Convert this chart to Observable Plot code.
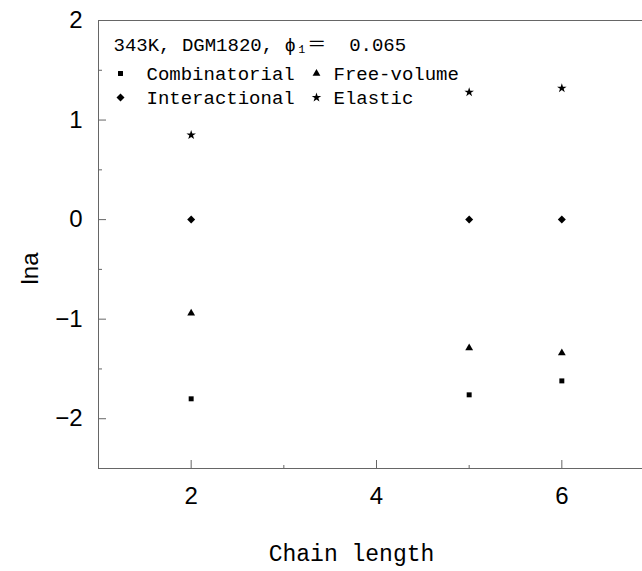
<!DOCTYPE html>
<html>
<head>
<meta charset="utf-8">
<script src="https://cdn.jsdelivr.net/npm/d3@7"></script>
<script src="https://cdn.jsdelivr.net/npm/@observablehq/plot@0.6"></script>
<style>
  html, body { margin: 0; padding: 0; background: #fff; }
</style>
</head>
<body>
<div id="chart"></div>
<script>
const chainLength = [2, 5, 6];
const combinatorial = [-1.80, -1.76, -1.62];
const freeVolume = [-0.94, -1.29, -1.34];
const interactional = [0, 0, 0];
const elastic = [0.85, 1.28, 1.32];

const seriesNames = ["Combinatorial", "Free-volume", "Interactional", "Elastic"];
const seriesSymbols = ["square", "triangle", "diamond2", "star"];
const seriesValues = [combinatorial, freeVolume, interactional, elastic];

const xMajorTicks = [2, 4, 6];
const xMinorTicks = [3, 5];
const yMajorTicks = [-2, -1, 0, 1, 2];
const yMinorTicks = [-1.5, -0.5, 0.5, 1.5];

const headerText = "343K, DGM1820, \u03d5\u2081\uff1d  0.065";
const xTitle = "Chain length";
const yTitle = "lna";

const symbolRadius = {"Combinatorial": 2.8, "Free-volume": 2.9, "Interactional": 3.6, "Elastic": 3.0};

const rows = seriesNames.flatMap((s, i) =>
  chainLength.map((c, j) => ({series: s, x: c, y: seriesValues[i][j]}))
);

const legendEntries = seriesNames.map((s, i) => ({series: s, col: i % 2, row: Math.floor(i / 2)}));

const mono = "'Liberation Mono', 'DejaVu Sans Mono', 'Noto Sans CJK SC', monospace";
const sans = "'Liberation Sans', Arial, sans-serif";
const axisColor = "#666";

const legendMarks = legendEntries.flatMap(e => [
  Plot.dot([e], {
    frameAnchor: "top-left",
    dx: 22 + e.col * 196, dy: 53 + e.row * 24,
    symbol: "series", fill: "black", r: symbolRadius[e.series]
  }),
  Plot.text([e], {
    frameAnchor: "top-left",
    text: "series",
    dx: 48 + e.col * 187, dy: 53 + e.row * 24,
    textAnchor: "start", lineAnchor: "middle", fontFamily: mono, fontSize: 19, fill: "black"
  })
]);

const dataMarks = seriesNames.map(s =>
  Plot.dot(rows.filter(d => d.series === s), {x: "x", y: "y", symbol: "series", fill: "black", r: symbolRadius[s]})
);

const chart = Plot.plot({
  width: 642,
  height: 571,
  marginLeft: 98,
  marginRight: -12,
  marginTop: 20,
  marginBottom: 103,
  style: {background: "#fff", color: "black"},
  x: {domain: [1, 7], axis: null},
  y: {domain: [-2.5, 2], axis: null},
  symbol: {domain: seriesNames, range: seriesSymbols},
  marks: [
    Plot.frame({stroke: axisColor, strokeWidth: 1}),
    // y axis labels
    Plot.axisY(yMajorTicks, {anchor: "left", label: null, tickSize: 0, tickPadding: 16, fontSize: 24, fontFamily: sans, fill: "black", tickFormat: d => d < 0 ? "\u2212" + Math.abs(d) : String(d)}),
    // y major/minor inward ticks
    Plot.axisY(yMajorTicks, {anchor: "left", label: null, tickSize: -8, text: null, stroke: axisColor}),
    Plot.axisY(yMinorTicks, {anchor: "left", label: null, tickSize: -4, text: null, stroke: axisColor}),
    // x axis labels
    Plot.axisX(xMajorTicks, {anchor: "bottom", label: null, tickSize: 0, tickPadding: 18, fontSize: 24, fontFamily: sans, fill: "black"}),
    Plot.axisX(xMajorTicks, {anchor: "bottom", label: null, tickSize: -8, text: null, stroke: axisColor}),
    Plot.axisX(xMinorTicks, {anchor: "bottom", label: null, tickSize: -3, text: null, stroke: axisColor}),
    // axis titles
    Plot.text([xTitle], {frameAnchor: "bottom", text: d => d, dx: -25, dy: 92, fontFamily: mono, fontSize: 23, fill: "black"}),
    Plot.text([yTitle], {frameAnchor: "left", text: d => d, rotate: -90, dx: -68, dy: 40, fontFamily: sans, fontSize: 24, fill: "black"}),
    // data
    ...dataMarks,
    // header & legend
    Plot.text([headerText], {frameAnchor: "top-left", text: d => d, dx: 15, dy: 24, textAnchor: "start", lineAnchor: "middle", fontFamily: mono, fontSize: 19, fill: "black"}),
    ...legendMarks
  ]
});

document.getElementById("chart").appendChild(chart);
</script>
</body>
</html>
